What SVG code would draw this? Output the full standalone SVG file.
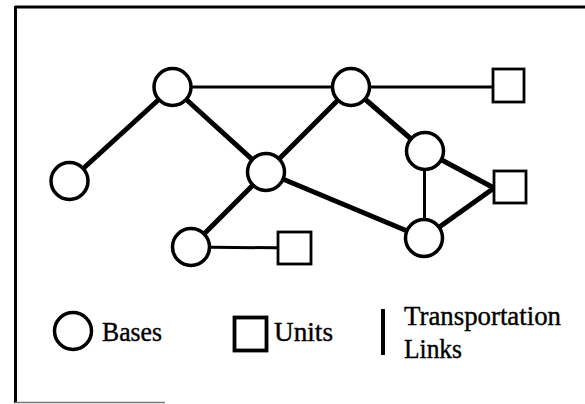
<svg xmlns="http://www.w3.org/2000/svg" width="585" height="404" viewBox="0 0 585 404">
<style>
.base{fill:#fff;stroke:#000;stroke-width:3.5}
.unit{fill:#fff;stroke:#000;stroke-width:2.8}
.thick{stroke:#000;stroke-width:5;stroke-linecap:butt}
.thin{stroke:#000;stroke-width:3}
.lbl{font-family:"Liberation Serif","Times New Roman",serif;font-size:27.5px;fill:#000;stroke:#000;stroke-width:0.4}
</style>
<rect width="585" height="404" fill="#fff"/>
<g id="frame">
<line x1="15" y1="7" x2="585" y2="7" stroke="#000" stroke-width="3"/>
<line x1="15.5" y1="6" x2="15.5" y2="403" stroke="#000" stroke-width="3"/>
<line x1="15" y1="402.5" x2="165" y2="402.5" stroke="#777" stroke-width="1.5"/>
</g>
<g id="connectors">
<line class="thick" x1="69.5" y1="181" x2="172.5" y2="87"/>
<line class="thin" x1="172.5" y1="87" x2="351" y2="87"/>
<line class="thin" x1="351" y1="87" x2="508" y2="87"/>
<line class="thick" x1="172.5" y1="87" x2="266" y2="172"/>
<line class="thick" x1="266" y1="172" x2="351" y2="87"/>
<line class="thick" x1="351" y1="87" x2="425" y2="151"/>
<line class="thick" x1="266" y1="172" x2="424" y2="238"/>
<line class="thick" x1="266" y1="172" x2="191" y2="247"/>
<line class="thin" x1="191" y1="247" x2="294" y2="248"/>
<line class="thin" x1="424.5" y1="151" x2="424.5" y2="238"/>
<line class="thick" x1="425" y1="151" x2="494" y2="188"/>
<line class="thick" x1="424" y1="238" x2="494" y2="188"/>
</g>
<g id="base-a"><circle class="base" cx="69.5" cy="181" r="18.5"/></g>
<g id="base-b"><circle class="base" cx="172.5" cy="87" r="18.5"/></g>
<g id="base-c"><circle class="base" cx="266" cy="172" r="18.5"/></g>
<g id="base-d"><circle class="base" cx="351" cy="87" r="18.5"/></g>
<g id="base-e"><circle class="base" cx="425" cy="151" r="18.5"/></g>
<g id="base-f"><circle class="base" cx="191" cy="247" r="18.5"/></g>
<g id="base-g"><circle class="base" cx="424" cy="238" r="18.5"/></g>
<g id="unit-1"><rect class="unit" x="493" y="69" width="31" height="33"/></g>
<g id="unit-2"><rect class="unit" x="494" y="171" width="32" height="32"/></g>
<g id="unit-3"><rect class="unit" x="278" y="232" width="33" height="32"/></g>
<g id="legend">
<circle cx="73" cy="331" r="18.5" fill="#fff" stroke="#000" stroke-width="3.5"/>
<text class="lbl" x="102" y="341" textLength="60" lengthAdjust="spacingAndGlyphs">Bases</text>
<rect x="234.5" y="317.5" width="32" height="33" fill="#fff" stroke="#000" stroke-width="3.8"/>
<text class="lbl" x="274" y="341" textLength="59" lengthAdjust="spacingAndGlyphs">Units</text>
<line x1="383" y1="309" x2="383" y2="355" stroke="#000" stroke-width="4"/>
<text class="lbl" x="404" y="325" textLength="157" lengthAdjust="spacingAndGlyphs">Transportation</text>
<text class="lbl" x="404" y="358" textLength="58" lengthAdjust="spacingAndGlyphs">Links</text>
</g>
</svg>
